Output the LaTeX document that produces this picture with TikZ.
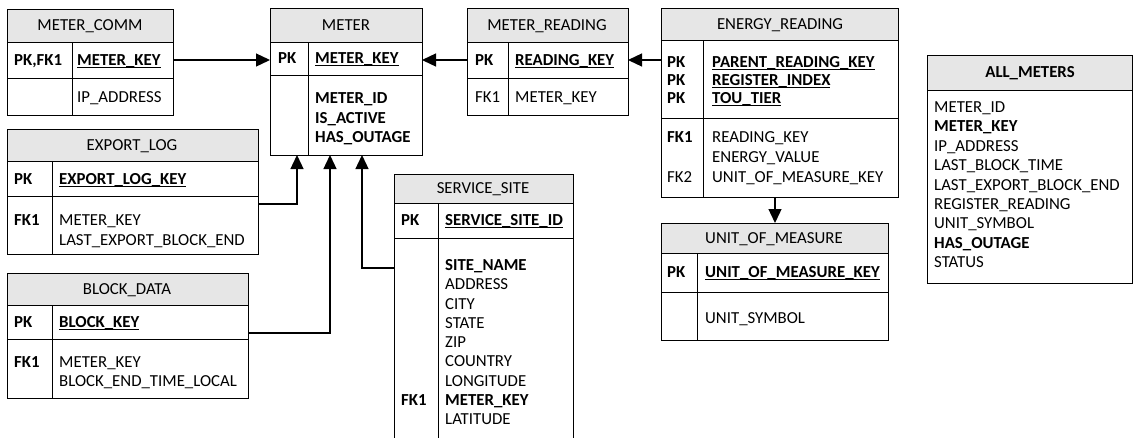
\documentclass[tikz,border=0pt]{standalone}
\usepackage{fontspec}
\setmainfont{Carlito}
\usetikzlibrary{arrows.meta}
\definecolor{hdrgray}{HTML}{E6E6E6}
\newcommand{\erfont}{\fontsize{16.8}{19}\selectfont}
% key field: underline drawn just under the baseline
\newcommand{\pkline}[1]{\setbox0\hbox{#1}\rlap{\rule[-2pt]{\wd0}{0.8pt}}\box0}
\begin{document}
\begin{tikzpicture}[x=1pt,y=-1pt,
  tbl/.style={draw=black, line width=1pt, inner sep=0pt, outer sep=0pt, anchor=north west},
  rule/.style={draw=black, line width=1pt},
  lbl/.style={anchor=west, inner sep=0pt, text height=10.8pt, text depth=0pt, font=\erfont},
  kbl/.style={lbl, font=\erfont\bfseries},
  ttl/.style={anchor=center, inner sep=0pt, text height=10.8pt, text depth=0pt, font=\erfont},
  link/.style={line width=1.3pt, -{Triangle[length=14pt,width=13pt]}},
]
\useasboundingbox (0,0) rectangle (1137,437);

% ---------- METER_COMM ----------
\fill[hdrgray] (7,9) rectangle (173,42);
\node[tbl, minimum width=166pt, minimum height=106pt] (mcomm) at (7,9) {};
\draw[rule] (7,42) -- (173,42) (7,78) -- (173,78) (72,42) -- (72,115);
\node[ttl] (mcomm-h) at (90,25.5) {METER\_COMM};
\node[kbl] (mcomm-k1) at (14,60) {PK,FK1};
\node[kbl] (mcomm-f1) at (77,60) {\pkline{METER\_KEY}};
\node[lbl] (mcomm-f2) at (77,97) {IP\_ADDRESS};

% ---------- METER ----------
\fill[hdrgray] (270,8) rectangle (422,42);
\node[tbl, minimum width=152pt, minimum height=147pt] (meter) at (270,8) {};
\draw[rule] (270,42) -- (422,42) (270,75) -- (422,75) (308,42) -- (308,155);
\node[ttl] (meter-h) at (346,25) {METER};
\node[kbl] (meter-k1) at (278,58.5) {PK};
\node[kbl] (meter-f1) at (315,58.5) {\pkline{METER\_KEY}};
\node[kbl] (meter-f2) at (315,98) {METER\_ID};
\node[kbl] (meter-f3) at (315,118) {IS\_ACTIVE};
\node[kbl] (meter-f4) at (315,137) {HAS\_OUTAGE};

% ---------- METER_READING ----------
\fill[hdrgray] (467,8) rectangle (628,42);
\node[tbl, minimum width=161pt, minimum height=107pt] (mread) at (467,8) {};
\draw[rule] (467,42) -- (628,42) (467,78) -- (628,78) (508,42) -- (508,115);
\node[ttl] (mread-h) at (547,25) {METER\_READING};
\node[kbl] (mread-k1) at (475,60) {PK};
\node[kbl] (mread-f1) at (515,60) {\pkline{READING\_KEY}};
\node[lbl] (mread-k2) at (475,97) {FK1};
\node[lbl] (mread-f2) at (515,97) {METER\_KEY};

% ---------- ENERGY_READING ----------
\fill[hdrgray] (661,8) rectangle (898,40);
\node[tbl, minimum width=237pt, minimum height=189pt] (eread) at (661,8) {};
\draw[rule] (661,40) -- (898,40) (661,118) -- (898,118) (703,40) -- (703,197);
\node[ttl] (eread-h) at (780,24) {ENERGY\_READING};
\node[kbl] (eread-k1) at (667,62) {PK};
\node[kbl] (eread-k2) at (667,80) {PK};
\node[kbl] (eread-k3) at (667,98) {PK};
\node[kbl] (eread-f1) at (712,62) {\pkline{PARENT\_READING\_KEY}};
\node[kbl] (eread-f2) at (712,80) {\pkline{REGISTER\_INDEX}};
\node[kbl] (eread-f3) at (712,98) {\pkline{TOU\_TIER}};
\node[kbl] (eread-k4) at (667,137) {FK1};
\node[lbl] (eread-f4) at (712,137) {READING\_KEY};
\node[lbl] (eread-f5) at (712,157) {ENERGY\_VALUE};
\node[lbl] (eread-k5) at (667,177) {FK2};
\node[lbl] (eread-f6) at (712,177) {UNIT\_OF\_MEASURE\_KEY};

% ---------- UNIT_OF_MEASURE ----------
\fill[hdrgray] (661,223) rectangle (888,253);
\node[tbl, minimum width=227pt, minimum height=117pt] (uom) at (661,223) {};
\draw[rule] (661,253) -- (888,253) (661,292) -- (888,292) (697,253) -- (697,340);
\node[ttl] (uom-h) at (774,238) {UNIT\_OF\_MEASURE};
\node[kbl] (uom-k1) at (667,272) {PK};
\node[kbl] (uom-f1) at (705,272) {\pkline{UNIT\_OF\_MEASURE\_KEY}};
\node[lbl] (uom-f2) at (705,318) {UNIT\_SYMBOL};

% ---------- ALL_METERS (view) ----------
\fill[hdrgray] (927,55) rectangle (1132,90);
\node[tbl, minimum width=205pt, minimum height=228pt] (allm) at (927,55) {};
\draw[rule] (927,90) -- (1132,90);
\node[ttl, font=\erfont\bfseries] (allm-h) at (1030,72) {ALL\_METERS};
\node[lbl] (allm-f1) at (934,107) {METER\_ID};
\node[kbl] (allm-f2) at (934,126.4) {METER\_KEY};
\node[lbl] (allm-f3) at (934,145.8) {IP\_ADDRESS};
\node[lbl] (allm-f4) at (934,165.2) {LAST\_BLOCK\_TIME};
\node[lbl] (allm-f5) at (934,184.6) {LAST\_EXPORT\_BLOCK\_END};
\node[lbl] (allm-f6) at (934,204) {REGISTER\_READING};
\node[lbl] (allm-f7) at (934,223.4) {UNIT\_SYMBOL};
\node[kbl] (allm-f8) at (934,242.8) {HAS\_OUTAGE};
\node[lbl] (allm-f9) at (934,262.2) {STATUS};

% ---------- EXPORT_LOG ----------
\fill[hdrgray] (7,129) rectangle (258,161);
\node[tbl, minimum width=251pt, minimum height=125pt] (elog) at (7,129) {};
\draw[rule] (7,161) -- (258,161) (7,196) -- (258,196) (52,161) -- (52,254);
\node[ttl] (elog-h) at (132,145) {EXPORT\_LOG};
\node[kbl] (elog-k1) at (14,179) {PK};
\node[kbl] (elog-f1) at (59,179) {\pkline{EXPORT\_LOG\_KEY}};
\node[kbl] (elog-k2) at (14,220) {FK1};
\node[lbl] (elog-f2) at (59,220) {METER\_KEY};
\node[lbl] (elog-f3) at (59,240) {LAST\_EXPORT\_BLOCK\_END};

% ---------- BLOCK_DATA ----------
\fill[hdrgray] (7,273) rectangle (248,305);
\node[tbl, minimum width=241pt, minimum height=125pt] (bdata) at (7,273) {};
\draw[rule] (7,305) -- (248,305) (7,339) -- (248,339) (52,305) -- (52,398);
\node[ttl] (bdata-h) at (127,289) {BLOCK\_DATA};
\node[kbl] (bdata-k1) at (14,322) {PK};
\node[kbl] (bdata-f1) at (59,322) {\pkline{BLOCK\_KEY}};
\node[kbl] (bdata-k2) at (14,362) {FK1};
\node[lbl] (bdata-f2) at (59,362) {METER\_KEY};
\node[lbl] (bdata-f3) at (59,381) {BLOCK\_END\_TIME\_LOCAL};

% ---------- SERVICE_SITE (runs past the lower edge) ----------
\fill[hdrgray] (394,174) rectangle (573,203);
\node[tbl, minimum width=179pt, minimum height=275pt] (ssite) at (394,174) {};
\draw[rule] (394,203) -- (573,203) (394,238) -- (573,238) (438,203) -- (438,449);
\node[ttl] (ssite-h) at (483,188.5) {SERVICE\_SITE};
\node[kbl] (ssite-k1) at (401,220) {PK};
\node[kbl] (ssite-f1) at (445,220) {\pkline{SERVICE\_SITE\_ID}};
\node[kbl] (ssite-f2) at (445,265) {SITE\_NAME};
\node[lbl] (ssite-f3) at (445,284.3) {ADDRESS};
\node[lbl] (ssite-f4) at (445,303.6) {CITY};
\node[lbl] (ssite-f5) at (445,322.9) {STATE};
\node[lbl] (ssite-f6) at (445,342.2) {ZIP};
\node[lbl] (ssite-f7) at (445,361.5) {COUNTRY};
\node[lbl] (ssite-f8) at (445,380.8) {LONGITUDE};
\node[kbl] (ssite-k2) at (401,400.1) {FK1};
\node[kbl] (ssite-f9) at (445,400.1) {METER\_KEY};
\node[lbl] (ssite-f10) at (445,419.4) {LATITUDE};

% ---------- relationships ----------
\draw[link] (mcomm.east |- 0,60) -- (meter.west |- 0,60);
\draw[link] (mread.west |- 0,60) -- (meter.east |- 0,60);
\draw[link] (eread.west |- 0,60) -- (mread.east |- 0,60);
\draw[link] (eread.south -| 775,0) -- (uom.north -| 775,0);
\draw[link] (elog.east |- 0,204) -| (meter.south -| 297,0);
\draw[link] (bdata.east |- 0,333) -| (meter.south -| 330,0);
\draw[link] (ssite.west |- 0,268) -| (meter.south -| 362,0);
\end{tikzpicture}
\end{document}
